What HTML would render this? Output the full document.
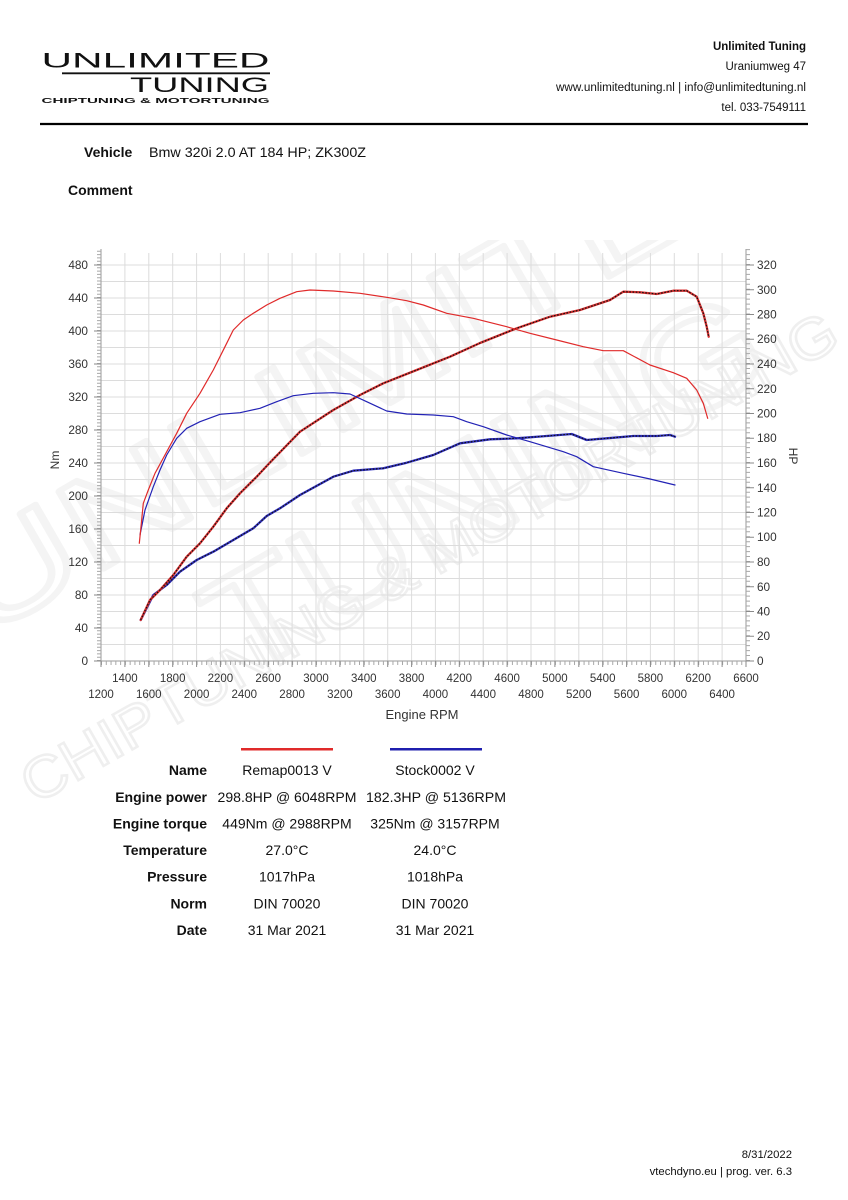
<!DOCTYPE html>
<html><head><meta charset="utf-8"><style>
html,body{margin:0;padding:0;background:#fff;}
svg{display:block;}
text{font-family:"Liberation Sans",Arial,sans-serif;}
</style></head><body>
<svg width="848" height="1200" viewBox="0 0 848 1200" xmlns="http://www.w3.org/2000/svg">
<defs><clipPath id="wm"><rect x="0" y="240" width="848" height="600"/></clipPath></defs>
<rect width="848" height="1200" fill="#fff"/>

<!-- watermark -->
<g clip-path="url(#wm)">
<g fill="none" stroke="#f4f4f4" stroke-width="6" stroke-linejoin="round">
  <text x="0" y="0" font-size="130" textLength="960" lengthAdjust="spacingAndGlyphs" transform="translate(-20,640) rotate(-30)">UNLIMITED</text>
  <text x="0" y="0" font-size="140" textLength="620" lengthAdjust="spacingAndGlyphs" transform="translate(240,680) rotate(-30)">TUNING</text>
</g>
<text x="0" y="0" font-size="58" fill="none" stroke="#efefef" stroke-width="2.5" textLength="930" lengthAdjust="spacingAndGlyphs" transform="translate(35,805) rotate(-29.7)">CHIPTUNING &amp; MOTORTUNING</text>
</g>

<!-- logo -->
<text x="41.5" y="67.5" font-size="21.5" textLength="228" lengthAdjust="spacingAndGlyphs" fill="#111">UNLIMITED</text>
<line x1="62" y1="73.3" x2="270" y2="73.3" stroke="#111" stroke-width="1.8"/>
<text x="130" y="92" font-size="21.5" textLength="139" lengthAdjust="spacingAndGlyphs" fill="#111">TUNING</text>
<text x="41.5" y="103" font-size="7.5" font-weight="bold" textLength="228" lengthAdjust="spacingAndGlyphs" fill="#111">CHIPTUNING &amp; MOTORTUNING</text>

<!-- header right -->
<g font-size="11.5" fill="#111" text-anchor="end">
  <text x="806" y="50" font-weight="bold">Unlimited Tuning</text>
  <text x="806" y="70">Uraniumweg 47</text>
  <text x="806" y="91" textLength="250" lengthAdjust="spacingAndGlyphs">www.unlimitedtuning.nl | info@unlimitedtuning.nl</text>
  <text x="806" y="111">tel. 033-7549111</text>
</g>
<line x1="40" y1="124" x2="808" y2="124" stroke="#000" stroke-width="2.2"/>

<!-- vehicle -->
<text x="84" y="157" font-size="14" font-weight="bold" fill="#111">Vehicle</text>
<text x="149" y="157" font-size="13.5" fill="#111" textLength="217" lengthAdjust="spacingAndGlyphs">Bmw 320i 2.0 AT 184 HP; ZK300Z</text>
<text x="68" y="195" font-size="14" font-weight="bold" fill="#111">Comment</text>

<!-- grid -->
<g stroke="#dcdcdc" stroke-width="1">
  <path d="M124.9 253V661M148.8 253V661M172.7 253V661M196.6 253V661M220.4 253V661M244.3 253V661M268.2 253V661M292.1 253V661M316 253V661M339.9 253V661M363.8 253V661M387.7 253V661M411.6 253V661M435.4 253V661M459.3 253V661M483.2 253V661M507.1 253V661M531 253V661M554.9 253V661M578.8 253V661M602.7 253V661M626.6 253V661M650.4 253V661M674.3 253V661M698.2 253V661M722.1 253V661"/>
  <path d="M101 644.5H746M101 628H746M101 611.5H746M101 595H746M101 578.5H746M101 562H746M101 545.5H746M101 529H746M101 512.5H746M101 496H746M101 479.5H746M101 463H746M101 446.5H746M101 430H746M101 413.5H746M101 397H746M101 380.5H746M101 364H746M101 347.5H746M101 331H746M101 314.5H746M101 298H746M101 281.5H746M101 265H746"/>
</g>

<!-- axes -->
<g stroke="#9a9a9a" stroke-width="1">
  <line x1="101" y1="249" x2="101" y2="661"/>
  <line x1="746" y1="249" x2="746" y2="661"/>
  <line x1="101" y1="661" x2="746" y2="661"/>
</g>
<!-- minor ticks -->
<line x1="99" y1="661" x2="99" y2="249" stroke="#a8a8a8" stroke-width="4" stroke-dasharray="1 2.3"/>
<line x1="748" y1="661" x2="748" y2="249" stroke="#a8a8a8" stroke-width="4" stroke-dasharray="1 3.95"/>
<line x1="101" y1="663" x2="746" y2="663" stroke="#a8a8a8" stroke-width="4" stroke-dasharray="1 3.778"/>
<!-- major ticks -->
<g stroke="#8a8a8a" stroke-width="1">
  <path d="M94 661H101M94 628H101M94 595H101M94 562H101M94 529H101M94 496H101M94 463H101M94 430H101M94 397H101M94 364H101M94 331H101M94 298H101M94 265H101"/>
  <path d="M746 661H754M746 636.25H754M746 611.5H754M746 586.75H754M746 562H754M746 537.25H754M746 512.5H754M746 487.75H754M746 463H754M746 438.25H754M746 413.5H754M746 388.75H754M746 364H754M746 339.25H754M746 314.5H754M746 289.75H754M746 265H754"/>
  <path d="M101 661V667M124.9 661V667M148.8 661V667M172.7 661V667M196.6 661V667M220.4 661V667M244.3 661V667M268.2 661V667M292.1 661V667M316 661V667M339.9 661V667M363.8 661V667M387.7 661V667M411.6 661V667M435.4 661V667M459.3 661V667M483.2 661V667M507.1 661V667M531 661V667M554.9 661V667M578.8 661V667M602.7 661V667M626.6 661V667M650.4 661V667M674.3 661V667M698.2 661V667M722.1 661V667M746 661V667"/>
</g>

<!-- left labels -->
<g font-size="11.8" fill="#333" text-anchor="end">
  <text x="88" y="665">0</text><text x="88" y="632">40</text><text x="88" y="599">80</text><text x="88" y="566">120</text>
  <text x="88" y="533">160</text><text x="88" y="500">200</text><text x="88" y="467">240</text><text x="88" y="434">280</text>
  <text x="88" y="401">320</text><text x="88" y="368">360</text><text x="88" y="335">400</text><text x="88" y="302">440</text>
  <text x="88" y="269">480</text>
</g>
<!-- right labels -->
<g font-size="11.8" fill="#333">
  <text x="757" y="665">0</text><text x="757" y="640">20</text><text x="757" y="615.5">40</text><text x="757" y="591">60</text>
  <text x="757" y="566">80</text><text x="757" y="541">100</text><text x="757" y="516.5">120</text><text x="757" y="492">140</text>
  <text x="757" y="467">160</text><text x="757" y="442">180</text><text x="757" y="417.5">200</text><text x="757" y="393">220</text>
  <text x="757" y="368">240</text><text x="757" y="343">260</text><text x="757" y="318.5">280</text><text x="757" y="294">300</text>
  <text x="757" y="269">320</text>
</g>
<!-- x labels -->
<g font-size="11.5" fill="#333" text-anchor="middle">
  <text x="124.9" y="682">1400</text><text x="172.7" y="682">1800</text><text x="220.4" y="682">2200</text><text x="268.2" y="682">2600</text>
  <text x="316" y="682">3000</text><text x="363.8" y="682">3400</text><text x="411.6" y="682">3800</text><text x="459.3" y="682">4200</text>
  <text x="507.1" y="682">4600</text><text x="554.9" y="682">5000</text><text x="602.7" y="682">5400</text><text x="650.4" y="682">5800</text>
  <text x="698.2" y="682">6200</text><text x="746" y="682">6600</text>
  <text x="101" y="698">1200</text><text x="148.8" y="698">1600</text><text x="196.6" y="698">2000</text><text x="244.3" y="698">2400</text>
  <text x="292.1" y="698">2800</text><text x="339.9" y="698">3200</text><text x="387.7" y="698">3600</text><text x="435.4" y="698">4000</text>
  <text x="483.2" y="698">4400</text><text x="531" y="698">4800</text><text x="578.8" y="698">5200</text><text x="626.6" y="698">5600</text>
  <text x="674.3" y="698">6000</text><text x="722.1" y="698">6400</text>
</g>
<text x="422" y="719" font-size="13" fill="#333" text-anchor="middle">Engine RPM</text>
<text x="0" y="0" font-size="12" fill="#333" text-anchor="middle" transform="translate(59,460) rotate(-90)">Nm</text>
<text x="0" y="0" font-size="12" fill="#333" text-anchor="middle" transform="translate(789,456) rotate(90)">HP</text>

<!-- curves -->
<g fill="none" stroke-linejoin="round" stroke-linecap="round">
  <!-- blue HP -->
  <polyline stroke="#3030c0" stroke-width="2.3" points="140.7,620 153.3,595 166.7,585 180,571.7 196.7,560 213.3,551.7 233.3,540 253.3,528.3 266.7,516 280,508.3 300,495 333.3,476.7 353.3,470.7 383.3,468.3 406.7,462.7 433.3,455 460,443.3 490,439.3 516.7,438.3 546.7,436 571.7,434 586.7,440 606.7,438.3 633.3,436 656.7,436 670,435 675,436.7"/>
  <polyline stroke="#111" stroke-width="1.2" stroke-dasharray="1.6 1.6" stroke-linecap="butt" points="140.7,620 153.3,595 166.7,585 180,571.7 196.7,560 213.3,551.7 233.3,540 253.3,528.3 266.7,516 280,508.3 300,495 333.3,476.7 353.3,470.7 383.3,468.3 406.7,462.7 433.3,455 460,443.3 490,439.3 516.7,438.3 546.7,436 571.7,434 586.7,440 606.7,438.3 633.3,436 656.7,436 670,435 675,436.7"/>
  <!-- red HP -->
  <polyline stroke="#d83030" stroke-width="2.3" points="140.7,620 150,600 160,590 173.3,575 186.7,556.7 200,543.3 213.3,526.7 226.7,508.3 240,493.3 256.7,476.7 270,462.5 300,431.7 333.3,410 360,395 383.3,383.3 416.7,370 450,356.7 480,343 516.7,328.3 550,316.7 580,310 610,300 623.3,291.7 640,292.3 656.7,294 673.3,290.7 686.7,290.7 696.7,296.7 703.3,313.3 706.7,326.7 708.7,336.7"/>
  <polyline stroke="#111" stroke-width="1.2" stroke-dasharray="1.6 1.6" stroke-linecap="butt" points="140.7,620 150,600 160,590 173.3,575 186.7,556.7 200,543.3 213.3,526.7 226.7,508.3 240,493.3 256.7,476.7 270,462.5 300,431.7 333.3,410 360,395 383.3,383.3 416.7,370 450,356.7 480,343 516.7,328.3 550,316.7 580,310 610,300 623.3,291.7 640,292.3 656.7,294 673.3,290.7 686.7,290.7 696.7,296.7 703.3,313.3 706.7,326.7 708.7,336.7"/>
  <!-- blue torque -->
  <polyline stroke="#2323b5" stroke-width="1.2" points="140,535 145,510 153.3,486.7 160,470 166.7,455 176.7,438.3 186.7,428.3 200,421.7 220,414.3 240,412.7 260,408.3 276.7,401.7 293.3,395.7 313.3,393.3 333.3,392.7 350,394 366.7,401.7 386.7,411 406.7,414 433.3,415 453.3,416.7 466.7,421.7 483.3,426.7 506.7,435 530,441.7 563.3,451.7 576.7,456.7 593.3,466.7 623.3,473.3 650,479 675,485"/>
  <!-- red torque -->
  <polyline stroke="#e02a2a" stroke-width="1.2" points="139.3,543.3 141,526.7 143.3,503.3 148.3,490 155,473.3 161.7,461 176.7,433.3 186.7,413.3 200,393.3 213.3,370 225,346.7 233.3,330 243.3,320 253.3,313.3 266.7,305 280,298.3 296.7,291.7 310,290 333.3,291 360,293.3 386.7,297.3 406.7,300.7 423.3,305 446.7,313.3 473.3,318.3 506.7,326.7 530,333.3 556.7,340 583.3,346.7 603.3,350.7 623.3,350.7 650,365 673.3,372.7 686.7,378.3 696.7,390 703.3,403.3 707.7,418.3"/>
</g>

<!-- legend lines -->
<line x1="241" y1="749.3" x2="333" y2="749.3" stroke="#e02a2a" stroke-width="2.5"/>
<line x1="390" y1="749.3" x2="482" y2="749.3" stroke="#1f1fae" stroke-width="2.5"/>

<!-- table -->
<g font-size="14" font-weight="bold" fill="#111" text-anchor="end">
  <text x="207" y="775">Name</text>
  <text x="207" y="802">Engine power</text>
  <text x="207" y="828.5">Engine torque</text>
  <text x="207" y="855">Temperature</text>
  <text x="207" y="881.5">Pressure</text>
  <text x="207" y="908.3">Norm</text>
  <text x="207" y="935">Date</text>
</g>
<g font-size="14" fill="#111" text-anchor="middle">
  <text x="287" y="775">Remap0013 V</text>
  <text x="287" y="802" textLength="139" lengthAdjust="spacingAndGlyphs">298.8HP @  6048RPM</text>
  <text x="287" y="828.5">449Nm @ 2988RPM</text>
  <text x="287" y="855">27.0°C</text>
  <text x="287" y="881.5">1017hPa</text>
  <text x="287" y="908.3">DIN 70020</text>
  <text x="287" y="935">31 Mar 2021</text>
  <text x="435" y="775">Stock0002 V</text>
  <text x="436" y="802" textLength="140" lengthAdjust="spacingAndGlyphs">182.3HP @  5136RPM</text>
  <text x="435" y="828.5">325Nm @ 3157RPM</text>
  <text x="435" y="855">24.0°C</text>
  <text x="435" y="881.5">1018hPa</text>
  <text x="435" y="908.3">DIN 70020</text>
  <text x="435" y="935">31 Mar 2021</text>
</g>

<!-- footer -->
<g font-size="11.3" fill="#111" text-anchor="end">
  <text x="792" y="1158">8/31/2022</text>
  <text x="792" y="1175">vtechdyno.eu | prog. ver. 6.3</text>
</g>
</svg>
</body></html>
